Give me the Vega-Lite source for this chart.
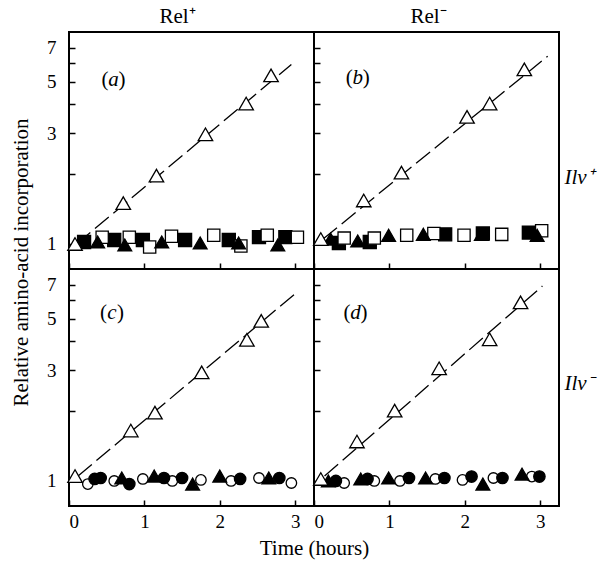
{
  "$schema": "https://vega.github.io/schema/vega-lite/v6.json",
  "background": "white",
  "padding": {"left": 9, "top": 5, "right": 5, "bottom": 5},
  "data": {"values": [
    {"p":"a","s":"fit","t":0.1,"v":1.0},{"p":"a","s":"fit","t":2.95,"v":5.94},
    {"p":"a","s":"fs","t":0.20,"v":1.02},{"p":"a","s":"fs","t":0.60,"v":1.04},{"p":"a","s":"fs","t":0.98,"v":1.04},{"p":"a","s":"fs","t":1.54,"v":1.04},{"p":"a","s":"fs","t":2.12,"v":1.04},{"p":"a","s":"fs","t":2.52,"v":1.07},{"p":"a","s":"fs","t":2.87,"v":1.07},
    {"p":"a","s":"os","t":0.44,"v":1.07},{"p":"a","s":"os","t":0.80,"v":1.07},{"p":"a","s":"os","t":1.07,"v":0.97},{"p":"a","s":"os","t":1.36,"v":1.08},{"p":"a","s":"os","t":1.92,"v":1.09},{"p":"a","s":"os","t":2.28,"v":0.98},{"p":"a","s":"os","t":2.63,"v":1.09},{"p":"a","s":"os","t":3.03,"v":1.07},
    {"p":"a","s":"ft","t":0.38,"v":1.02},{"p":"a","s":"ft","t":0.74,"v":0.99},{"p":"a","s":"ft","t":1.23,"v":1.02},{"p":"a","s":"ft","t":1.74,"v":1.01},{"p":"a","s":"ft","t":2.25,"v":1.01},{"p":"a","s":"ft","t":2.77,"v":0.99},
    {"p":"a","s":"ot","t":0.08,"v":1.0},{"p":"a","s":"ot","t":0.72,"v":1.50},{"p":"a","s":"ot","t":1.16,"v":1.97},{"p":"a","s":"ot","t":1.81,"v":2.97},{"p":"a","s":"ot","t":2.35,"v":4.03},{"p":"a","s":"ot","t":2.68,"v":5.33},

    {"p":"b","s":"fit","t":0.12,"v":1.05},{"p":"b","s":"fit","t":3.10,"v":6.45},
    {"p":"b","s":"fs","t":0.33,"v":1.01},{"p":"b","s":"fs","t":0.74,"v":1.02},{"p":"b","s":"fs","t":1.74,"v":1.10},{"p":"b","s":"fs","t":2.24,"v":1.11},{"p":"b","s":"fs","t":2.85,"v":1.12},
    {"p":"b","s":"os","t":0.40,"v":1.06},{"p":"b","s":"os","t":0.80,"v":1.06},{"p":"b","s":"os","t":1.23,"v":1.09},{"p":"b","s":"os","t":1.59,"v":1.11},{"p":"b","s":"os","t":1.99,"v":1.09},{"p":"b","s":"os","t":2.49,"v":1.10},{"p":"b","s":"os","t":3.02,"v":1.14},
    {"p":"b","s":"ft","t":0.22,"v":1.05},{"p":"b","s":"ft","t":0.58,"v":1.03},{"p":"b","s":"ft","t":0.99,"v":1.09},{"p":"b","s":"ft","t":1.45,"v":1.10},{"p":"b","s":"ft","t":2.22,"v":1.10},{"p":"b","s":"ft","t":2.96,"v":1.09},
    {"p":"b","s":"ot","t":0.09,"v":1.05},{"p":"b","s":"ot","t":0.66,"v":1.54},{"p":"b","s":"ot","t":1.16,"v":2.03},{"p":"b","s":"ot","t":2.03,"v":3.53},{"p":"b","s":"ot","t":2.33,"v":4.03},{"p":"b","s":"ot","t":2.79,"v":5.66},

    {"p":"c","s":"fit","t":0.12,"v":1.05},{"p":"c","s":"fit","t":3.04,"v":6.58},
    {"p":"c","s":"oc","t":0.25,"v":0.97},{"p":"c","s":"oc","t":0.60,"v":1.0},{"p":"c","s":"oc","t":0.98,"v":1.02},{"p":"c","s":"oc","t":1.37,"v":1.0},{"p":"c","s":"oc","t":1.75,"v":1.01},{"p":"c","s":"oc","t":2.15,"v":1.0},{"p":"c","s":"oc","t":2.52,"v":1.03},{"p":"c","s":"oc","t":2.95,"v":0.98},
    {"p":"c","s":"fc","t":0.34,"v":1.02},{"p":"c","s":"fc","t":0.42,"v":1.03},{"p":"c","s":"fc","t":0.80,"v":0.97},{"p":"c","s":"fc","t":1.26,"v":1.03},{"p":"c","s":"fc","t":1.50,"v":1.03},{"p":"c","s":"fc","t":2.27,"v":1.02},{"p":"c","s":"fc","t":2.79,"v":1.03},
    {"p":"c","s":"ft","t":0.70,"v":1.03},{"p":"c","s":"ft","t":1.13,"v":1.05},{"p":"c","s":"ft","t":1.64,"v":0.97},{"p":"c","s":"ft","t":2.0,"v":1.05},{"p":"c","s":"ft","t":2.65,"v":1.03},
    {"p":"c","s":"ot","t":0.08,"v":1.05},{"p":"c","s":"ot","t":0.82,"v":1.65},{"p":"c","s":"ot","t":1.14,"v":1.97},{"p":"c","s":"ot","t":1.76,"v":2.94},{"p":"c","s":"ot","t":2.36,"v":4.06},{"p":"c","s":"ot","t":2.55,"v":4.90},

    {"p":"d","s":"fit","t":0.14,"v":1.05},{"p":"d","s":"fit","t":3.03,"v":6.92},
    {"p":"d","s":"oc","t":0.40,"v":0.98},{"p":"d","s":"oc","t":0.80,"v":1.0},{"p":"d","s":"oc","t":1.14,"v":1.0},{"p":"d","s":"oc","t":1.61,"v":1.02},{"p":"d","s":"oc","t":1.97,"v":1.01},{"p":"d","s":"oc","t":2.38,"v":1.03},{"p":"d","s":"oc","t":2.89,"v":1.045},
    {"p":"d","s":"fc","t":0.29,"v":1.0},{"p":"d","s":"fc","t":0.71,"v":1.02},{"p":"d","s":"fc","t":1.26,"v":1.03},{"p":"d","s":"fc","t":1.73,"v":1.03},{"p":"d","s":"fc","t":2.09,"v":1.045},{"p":"d","s":"fc","t":2.50,"v":1.03},{"p":"d","s":"fc","t":2.99,"v":1.045},
    {"p":"d","s":"ft","t":0.19,"v":1.0},{"p":"d","s":"ft","t":0.62,"v":1.02},{"p":"d","s":"ft","t":0.99,"v":1.03},{"p":"d","s":"ft","t":1.48,"v":1.03},{"p":"d","s":"ft","t":2.24,"v":0.97},{"p":"d","s":"ft","t":2.76,"v":1.07},
    {"p":"d","s":"ot","t":0.09,"v":1.02},{"p":"d","s":"ot","t":0.57,"v":1.48},{"p":"d","s":"ot","t":1.07,"v":2.01},{"p":"d","s":"ot","t":1.66,"v":3.06},{"p":"d","s":"ot","t":2.33,"v":4.08},{"p":"d","s":"ot","t":2.74,"v":5.89}
  ]},
  "columns": 2,
  "spacing": 0,
  "bounds": "flush",
  "concat": [
    {
      "width": 245, "height": 237,
      "title": {"text": "Rel\u207a", "anchor": "middle", "dx": -14, "offset": 5},
      "encoding": {
        "x": {"field": "t", "type": "quantitative", "scale": {"domain": [0, 3.25], "nice": false, "zero": false},
              "axis": {"values": [0, 1, 2, 3], "labels": false, "tickSize": -6, "title": null}},
        "y": {"field": "v", "type": "quantitative", "scale": {"type": "log", "domain": [0.78, 8.2], "nice": false},
              "axis": {"values": [1, 2, 3, 4, 5, 6, 7], "tickSize": -6, "labelPadding": 19,
                       "labelExpr": "indexof([1,3,5,7], datum.value) >= 0 ? datum.label : ''",
                       "title": "Relative amino-acid incorporation", "titleY": 230, "titlePadding": 15}}
      },
      "layer": [
        {"transform": [{"filter": "datum.p == 'a' && datum.s == 'fit'"}],
         "mark": {"type": "line", "color": "black", "strokeWidth": 1.3, "strokeDash": [18, 6]}},
        {"transform": [{"filter": "datum.p == 'a' && datum.s != 'fit'"}],
         "mark": {"type": "point", "filled": true, "stroke": "black", "strokeWidth": 1.3, "opacity": 1},
         "encoding": {
           "shape": {"field": "s", "type": "nominal", "legend": null, "scale": {"domain": ["ot","ft","fs","os","fc","oc"], "range": ["triangle-up","triangle-up","square","square","circle","circle"]}},
           "fill": {"field": "s", "type": "nominal", "legend": null, "scale": {"domain": ["ot","ft","fs","os","fc","oc"], "range": ["white","black","black","white","black","white"]}},
           "size": {"field": "s", "type": "nominal", "legend": null, "scale": {"domain": ["ot","ft","fs","os","fc","oc"], "range": [210,110,90,90,85,85]}}
         }},
        {"transform": [{"filter": "datum.p == 'a' && datum.s == 'fit' && datum.t < 1"}],
         "mark": {"type": "text", "fontSize": 21, "color": "black", "align": "right", "dx": -5},
         "encoding": {"x": {"datum": 0.59}, "y": {"datum": 5.1}, "text": {"value": "("}}},
        {"transform": [{"filter": "datum.p == 'a' && datum.s == 'fit' && datum.t < 1"}],
         "mark": {"type": "text", "fontSize": 21, "color": "black", "align": "center", "fontStyle": "italic"},
         "encoding": {"x": {"datum": 0.59}, "y": {"datum": 5.1}, "text": {"value": "a"}}},
        {"transform": [{"filter": "datum.p == 'a' && datum.s == 'fit' && datum.t < 1"}],
         "mark": {"type": "text", "fontSize": 21, "color": "black", "align": "left", "dx": 5},
         "encoding": {"x": {"datum": 0.59}, "y": {"datum": 5.1}, "text": {"value": ")"}}}
      ]
    },
    {
      "width": 245, "height": 237,
      "title": {"text": "Rel\u207b", "anchor": "middle", "dx": -8, "offset": 5},
      "encoding": {
        "x": {"field": "t", "type": "quantitative", "scale": {"domain": [0, 3.25], "nice": false, "zero": false},
              "axis": {"values": [0, 1, 2, 3], "labels": false, "tickSize": -6, "title": null}},
        "y": {"field": "v", "type": "quantitative", "scale": {"type": "log", "domain": [0.78, 8.2], "nice": false},
              "axis": {"values": [1, 2, 3, 4, 5, 6, 7], "tickSize": -6, "labels": false,
                       "title": "Ilv\u207a", "titleAngle": 0, "titleX": 250, "titleY": 151, "titleAlign": "left", "titleBaseline": "alphabetic", "titleFontStyle": "italic"}}
      },
      "layer": [
        {"transform": [{"filter": "datum.p == 'b' && datum.s == 'fit'"}],
         "mark": {"type": "line", "color": "black", "strokeWidth": 1.3, "strokeDash": [18, 6]}},
        {"transform": [{"filter": "datum.p == 'b' && datum.s != 'fit'"}],
         "mark": {"type": "point", "filled": true, "stroke": "black", "strokeWidth": 1.3, "opacity": 1},
         "encoding": {
           "shape": {"field": "s", "type": "nominal", "legend": null, "scale": {"domain": ["ot","ft","fs","os","fc","oc"], "range": ["triangle-up","triangle-up","square","square","circle","circle"]}},
           "fill": {"field": "s", "type": "nominal", "legend": null, "scale": {"domain": ["ot","ft","fs","os","fc","oc"], "range": ["white","black","black","white","black","white"]}},
           "size": {"field": "s", "type": "nominal", "legend": null, "scale": {"domain": ["ot","ft","fs","os","fc","oc"], "range": [210,110,90,90,85,85]}}
         }},
        {"transform": [{"filter": "datum.p == 'b' && datum.s == 'fit' && datum.t < 1"}],
         "mark": {"type": "text", "fontSize": 21, "color": "black", "align": "right", "dx": -5},
         "encoding": {"x": {"datum": 0.58}, "y": {"datum": 5.2}, "text": {"value": "("}}},
        {"transform": [{"filter": "datum.p == 'b' && datum.s == 'fit' && datum.t < 1"}],
         "mark": {"type": "text", "fontSize": 21, "color": "black", "align": "center", "fontStyle": "italic"},
         "encoding": {"x": {"datum": 0.58}, "y": {"datum": 5.2}, "text": {"value": "b"}}},
        {"transform": [{"filter": "datum.p == 'b' && datum.s == 'fit' && datum.t < 1"}],
         "mark": {"type": "text", "fontSize": 21, "color": "black", "align": "left", "dx": 5},
         "encoding": {"x": {"datum": 0.58}, "y": {"datum": 5.2}, "text": {"value": ")"}}}
      ]
    },
    {
      "width": 245, "height": 237,
      "encoding": {
        "x": {"field": "t", "type": "quantitative", "scale": {"domain": [0, 3.25], "nice": false, "zero": false},
              "axis": {"values": [0, 1, 2, 3], "tickSize": -6, "labelPadding": 12, "title": "Time (hours)", "titleX": 245, "titlePadding": 6}},
        "y": {"field": "v", "type": "quantitative", "scale": {"type": "log", "domain": [0.78, 8.2], "nice": false},
              "axis": {"values": [1, 2, 3, 4, 5, 6, 7], "tickSize": -6, "labelPadding": 19,
                       "labelExpr": "indexof([1,3,5,7], datum.value) >= 0 ? datum.label : ''", "title": null}}
      },
      "layer": [
        {"transform": [{"filter": "datum.p == 'c' && datum.s == 'fit'"}],
         "mark": {"type": "line", "color": "black", "strokeWidth": 1.3, "strokeDash": [18, 6]}},
        {"transform": [{"filter": "datum.p == 'c' && datum.s != 'fit'"}],
         "mark": {"type": "point", "filled": true, "stroke": "black", "strokeWidth": 1.3, "opacity": 1},
         "encoding": {
           "shape": {"field": "s", "type": "nominal", "legend": null, "scale": {"domain": ["ot","ft","fs","os","fc","oc"], "range": ["triangle-up","triangle-up","square","square","circle","circle"]}},
           "fill": {"field": "s", "type": "nominal", "legend": null, "scale": {"domain": ["ot","ft","fs","os","fc","oc"], "range": ["white","black","black","white","black","white"]}},
           "size": {"field": "s", "type": "nominal", "legend": null, "scale": {"domain": ["ot","ft","fs","os","fc","oc"], "range": [210,110,90,90,85,85]}}
         }},
        {"transform": [{"filter": "datum.p == 'c' && datum.s == 'fit' && datum.t < 1"}],
         "mark": {"type": "text", "fontSize": 21, "color": "black", "align": "right", "dx": -5},
         "encoding": {"x": {"datum": 0.57}, "y": {"datum": 5.3}, "text": {"value": "("}}},
        {"transform": [{"filter": "datum.p == 'c' && datum.s == 'fit' && datum.t < 1"}],
         "mark": {"type": "text", "fontSize": 21, "color": "black", "align": "center", "fontStyle": "italic"},
         "encoding": {"x": {"datum": 0.57}, "y": {"datum": 5.3}, "text": {"value": "c"}}},
        {"transform": [{"filter": "datum.p == 'c' && datum.s == 'fit' && datum.t < 1"}],
         "mark": {"type": "text", "fontSize": 21, "color": "black", "align": "left", "dx": 5},
         "encoding": {"x": {"datum": 0.57}, "y": {"datum": 5.3}, "text": {"value": ")"}}}
      ]
    },
    {
      "width": 245, "height": 237,
      "encoding": {
        "x": {"field": "t", "type": "quantitative", "scale": {"domain": [0, 3.25], "nice": false, "zero": false},
              "axis": {"values": [0, 1, 2, 3], "tickSize": -6, "labelPadding": 12, "title": null}},
        "y": {"field": "v", "type": "quantitative", "scale": {"type": "log", "domain": [0.78, 8.2], "nice": false},
              "axis": {"values": [1, 2, 3, 4, 5, 6, 7], "tickSize": -6, "labels": false,
                       "title": "Ilv\u207b", "titleAngle": 0, "titleX": 250, "titleY": 120, "titleAlign": "left", "titleBaseline": "alphabetic", "titleFontStyle": "italic"}}
      },
      "layer": [
        {"transform": [{"filter": "datum.p == 'd' && datum.s == 'fit'"}],
         "mark": {"type": "line", "color": "black", "strokeWidth": 1.3, "strokeDash": [18, 6]}},
        {"transform": [{"filter": "datum.p == 'd' && datum.s != 'fit'"}],
         "mark": {"type": "point", "filled": true, "stroke": "black", "strokeWidth": 1.3, "opacity": 1},
         "encoding": {
           "shape": {"field": "s", "type": "nominal", "legend": null, "scale": {"domain": ["ot","ft","fs","os","fc","oc"], "range": ["triangle-up","triangle-up","square","square","circle","circle"]}},
           "fill": {"field": "s", "type": "nominal", "legend": null, "scale": {"domain": ["ot","ft","fs","os","fc","oc"], "range": ["white","black","black","white","black","white"]}},
           "size": {"field": "s", "type": "nominal", "legend": null, "scale": {"domain": ["ot","ft","fs","os","fc","oc"], "range": [210,110,90,90,85,85]}}
         }},
        {"transform": [{"filter": "datum.p == 'd' && datum.s == 'fit' && datum.t < 1"}],
         "mark": {"type": "text", "fontSize": 21, "color": "black", "align": "right", "dx": -5},
         "encoding": {"x": {"datum": 0.55}, "y": {"datum": 5.3}, "text": {"value": "("}}},
        {"transform": [{"filter": "datum.p == 'd' && datum.s == 'fit' && datum.t < 1"}],
         "mark": {"type": "text", "fontSize": 21, "color": "black", "align": "center", "fontStyle": "italic"},
         "encoding": {"x": {"datum": 0.55}, "y": {"datum": 5.3}, "text": {"value": "d"}}},
        {"transform": [{"filter": "datum.p == 'd' && datum.s == 'fit' && datum.t < 1"}],
         "mark": {"type": "text", "fontSize": 21, "color": "black", "align": "left", "dx": 5},
         "encoding": {"x": {"datum": 0.55}, "y": {"datum": 5.3}, "text": {"value": ")"}}}
      ]
    }
  ],
  "config": {
    "font": "Liberation Serif",
    "view": {"stroke": "black", "strokeWidth": 2},
    "axis": {"domain": false, "grid": false, "labelFont": "Liberation Serif", "labelFontSize": 19, "labelColor": "black",
             "titleFont": "Liberation Serif", "titleFontSize": 21, "titleFontWeight": "normal", "titleColor": "black",
             "tickColor": "black", "tickWidth": 1.5},
    "title": {"font": "Liberation Serif", "fontSize": 21, "fontWeight": "normal", "color": "black"},
    "text": {"font": "Liberation Serif"}
  }
}
